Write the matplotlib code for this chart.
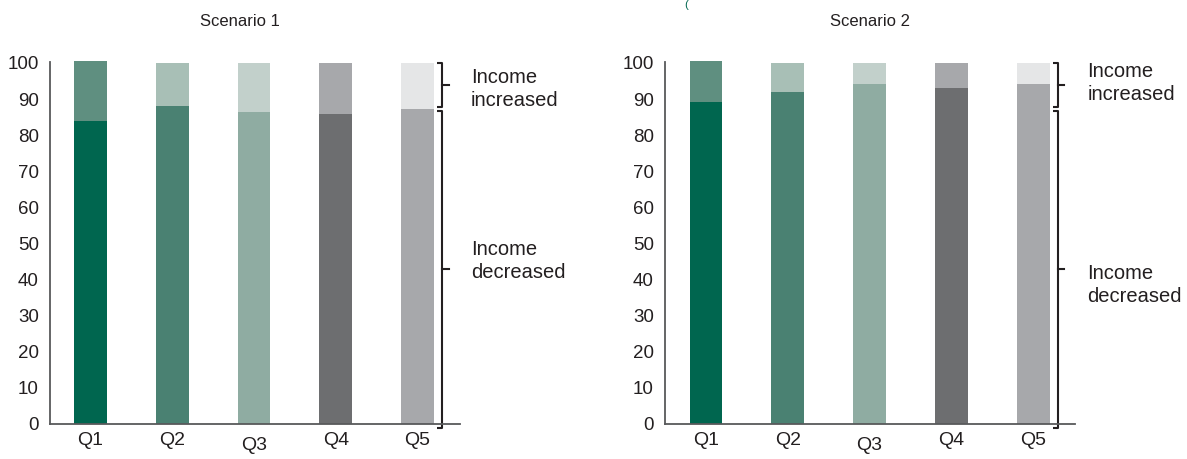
import matplotlib
matplotlib.use("Agg")
import matplotlib.pyplot as plt
import matplotlib.transforms as mtransforms

plt.rcParams['font.family'] = ['Liberation Sans', 'DejaVu Sans']

categories = ["Q1", "Q2", "Q3", "Q4", "Q5"]
s1_decreased = [83.9, 88.1, 86.4, 85.9, 87.3]
s1_increased = [16.7, 11.8, 13.5, 14.0, 12.6]
s2_decreased = [89.3, 92.1, 94.1, 93.2, 94.1]
s2_increased = [11.3, 7.8, 5.8, 6.7, 5.8]
titles = ["Scenario 1", "Scenario 2"]
yticks = list(range(0, 101, 10))

dec_colors = ["#00664F", "#4A8172", "#8FACA2", "#6D6E70", "#A7A8AB"]
inc_colors = ["#5F8F80", "#A8BFB6", "#C2D0CB", "#A7A8AB", "#E5E6E7"]

W, H = 1187, 459
fig = plt.figure(figsize=(W / 100, H / 100), dpi=100)

txt = "#231F20"
spine_c = "#58595B"

def px_ax(x0, x1, y0, y1):
    return [x0 / W, (H - y1) / H, (x1 - x0) / W, (y1 - y0) / H]

ymax = 100.4
top_px = 424 - ymax * 3.61
axes = [
    fig.add_axes(px_ax(50, 460, top_px, 424)),
    fig.add_axes(px_ax(665, 1075, top_px, 424)),
]
xlims = [(-0.495, 4.52), (-0.50, 4.51)]
data = [(s1_decreased, s1_increased), (s2_decreased, s2_increased)]
label_pos = [((4.654, 92.8), (4.654, 45.2)), ((4.66, 94.5), (4.66, 38.5))]
title_x = [240, 870]

def brace(ax, x, y0, y1, hook=0.06, tip=0.08, lw=1.5):
    ym = (y0 + y1) / 2
    ax.plot([x - hook, x, x, x - hook], [y1, y1, y0, y0], color=txt, lw=lw,
            clip_on=False, solid_joinstyle='round', solid_capstyle='butt')
    ax.plot([x, x + tip], [ym, ym], color=txt, lw=lw, clip_on=False)

for i, ax in enumerate(axes):
    dec, inc = data[i]
    xs = list(range(len(categories)))
    ax.bar(xs, dec, width=0.40, color=dec_colors, clip_on=False, zorder=2)
    ax.bar(xs, inc, bottom=dec, width=0.40, color=inc_colors, clip_on=False, zorder=2)
    ax.set_xlim(*xlims[i])
    ax.set_ylim(0, ymax)
    ax.set_yticks(yticks)
    ax.set_yticklabels([str(v) for v in yticks])
    ax.set_xticks(xs)
    ax.set_xticklabels(categories)
    for s in ["top", "right"]:
        ax.spines[s].set_visible(False)
    for s in ["left", "bottom"]:
        ax.spines[s].set_color(spine_c)
        ax.spines[s].set_linewidth(1.3)
    ax.tick_params(axis='y', length=0, pad=8, labelsize=13.5, labelcolor=txt)
    ax.tick_params(axis='x', length=0, pad=6, labelsize=14, labelcolor=txt)
    # Q3 label sits lower
    lab = ax.get_xticklabels()[2]
    lab.set_transform(lab.get_transform() +
                      mtransforms.ScaledTranslation(0, -5 / 100, fig.dpi_scale_trans))
    brace(ax, 4.30, 87.8, 100.0)
    brace(ax, 4.30, -1.1, 86.7)
    (xi, yi), (xd, yd) = label_pos[i]
    ax.text(xi, yi, "Income\nincreased", ha="left", va="center", fontsize=14.5,
            color=txt, linespacing=1.3, clip_on=False)
    ax.text(xd, yd, "Income\ndecreased", ha="left", va="center", fontsize=14.5,
            color=txt, linespacing=1.3, clip_on=False)
    fig.text(title_x[i] / W, 1 - 22 / H, titles[i], ha="center", va="center",
             fontsize=12, color=txt)

fig.text(686 / W, 1 - 5 / H, "(", ha="center", va="center", fontsize=8,
         color="#00664F")

fig.savefig("out.png", dpi=100)
